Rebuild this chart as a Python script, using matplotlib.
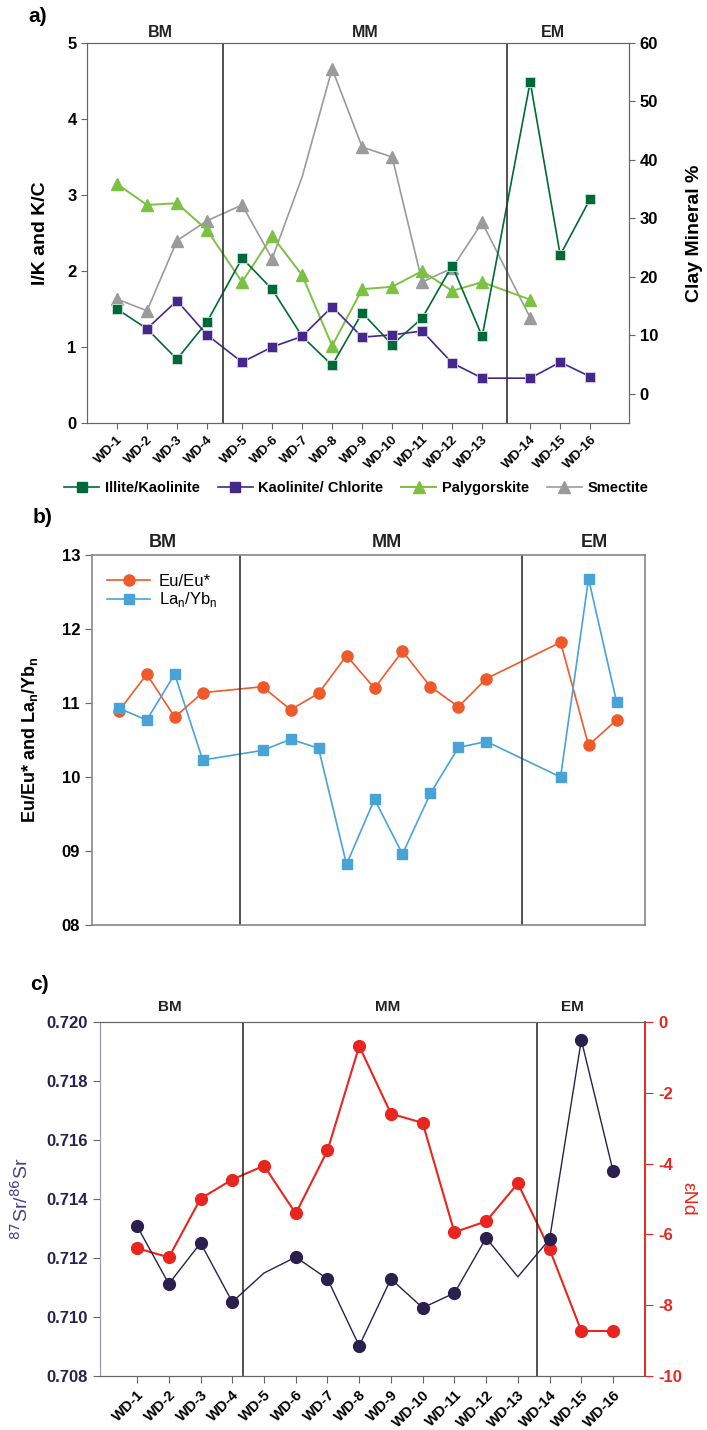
import numpy as np
import matplotlib
matplotlib.use('Agg')
import matplotlib.pyplot as plt
import matplotlib.transforms as mtransforms
from matplotlib.lines import Line2D

plt.rcParams['font.family'] = ['Liberation Sans', 'DejaVu Sans']

samples = ['WD-%d' % i for i in range(1, 17)]
zones = ['BM', 'MM', 'EM']
nan = np.nan

# a) clay minerals
illite_kaolinite = [1.50, 1.24, 0.84, 1.33, 2.17, 1.76, 1.14, 0.76, 1.45, 1.03, 1.38, 2.07, 1.14, 4.49, 2.21, 2.95]
kaolinite_chlorite = [nan, 1.24, 1.61, 1.16, 0.80, 1.00, 1.14, 1.53, 1.13, 1.16, 1.21, 0.79, 0.59, 0.59, 0.80, 0.61]
palygorskite = [35.9, 32.3, 32.6, 28.0, 19.1, 27.0, 20.3, 8.2, 17.9, 18.3, 21.0, 17.6, 19.1, 16.1, nan, nan]
smectite = [16.2, 14.2, 26.2, 29.6, 32.3, 23.1, 37.1, 55.6, 42.2, 40.5, 19.1, 21.5, 29.3, 13.0, nan, nan]

# b) REE ratios
eu_eu = [10.89, 11.39, 10.81, 11.14, 11.22, 10.91, 11.13, 11.64, 11.20, 11.70, 11.22, 10.95, 11.33, 11.82, 10.43, 10.77]
la_yb = [10.93, 10.77, 11.39, 10.23, 10.36, 10.51, 10.39, 8.82, 9.70, 8.96, 9.78, 10.40, 10.48, 10.00, 12.68, 11.02]
b_ticks = [8, 9, 10, 11, 12, 13]
b_ticklabels = ['08', '09', '10', '11', '12', '13']

# c) isotopes
sr_ratio = [0.71308, 0.71112, 0.71251, 0.71051, 0.71149, 0.71203, 0.71129, 0.70902,
            0.71129, 0.71031, 0.71081, 0.71268, 0.71136, 0.71264, 0.71939, 0.71495]
eps_nd = [-6.39, -6.65, -4.99, -4.45, -4.06, -5.41, -3.63, -0.68, -2.59, -2.85,
          -5.94, -5.63, -4.56, -6.42, -8.73, -8.73]
eps_ticks = [0, -2, -4, -6, -8, -10]

c_dgreen = '#00693a'
c_purple = '#46278a'
c_lgreen = '#7dc143'
c_gray = '#9b9b9b'
c_orange = '#ee5a2a'
c_blue = '#4aa3d6'
c_navy = '#2a2050'
c_red = '#e8261f'
c_spine = '#666666'


def positions(gap1, gap2):
    x = np.arange(16, dtype=float)
    x[4:] += gap1
    x[13:] += gap2
    return x


def zone_labels(ax, xs, y, size):
    tr = mtransforms.blended_transform_factory(ax.transData, ax.transAxes)
    for name, xx in zip(zones, xs):
        ax.text(xx, y, name, transform=tr, ha='center', va='center',
                fontsize=size, fontweight='bold', color='#222222')


fig = plt.figure(figsize=(7.07, 14.3), dpi=100)

# ---------------- a)
xa = positions(0.17, 0.6)
ax_a = fig.add_axes([0.123, 0.7042, 0.767, 0.2657])
ax_a2 = ax_a.twinx()
ax_a.set_zorder(ax_a2.get_zorder() + 1)
ax_a.patch.set_visible(False)

ax_a2.plot(xa, smectite, color=c_gray, lw=1.2, marker='^', ms=8,
           markevery=[i for i in range(16) if i != 6], label='Smectite')
ax_a2.plot(xa, palygorskite, color=c_lgreen, lw=1.4, marker='^', ms=8, label='Palygorskite')
ax_a.plot(xa, illite_kaolinite, color=c_dgreen, lw=1.2, marker='s', ms=6.5,
          mec='#cfe3d5', mew=0.6, label='Illite/Kaolinite')
ax_a.plot(xa, kaolinite_chlorite, color=c_purple, lw=1.2, marker='s', ms=6.5,
          mec='#d6cfe6', mew=0.6, label='Kaolinite/ Chlorite')

for xv in (3.53, 13.0):
    ax_a.axvline(xv, color='#333333', lw=1.2)

ax_a.set_xlim(-1.0, 17.07)
ax_a.set_ylim(0, 5)
ax_a2.set_ylim(-5, 60)
ax_a.set_yticks(range(6))
ax_a2.set_yticks(range(0, 61, 10))
ax_a.set_xticks(xa)
ax_a.set_xticklabels(samples, rotation=45, ha='right', rotation_mode='anchor',
                     fontsize=9.5, fontweight='bold')
for t in ax_a.get_yticklabels() + ax_a2.get_yticklabels():
    t.set_fontweight('bold')
    t.set_fontsize(12)
ax_a.tick_params(axis='both', color=c_spine, length=4)
ax_a2.tick_params(axis='y', color=c_spine, length=4)
for a in (ax_a, ax_a2):
    for s in a.spines.values():
        s.set_color(c_spine)
ax_a.set_ylabel('I/K and K/C', fontsize=14, fontweight='bold')
ax_a.yaxis.set_label_coords(-0.07, 0.5)
ax_a2.set_ylabel('Clay Mineral %', fontsize=14, fontweight='bold', rotation=90)
ax_a2.yaxis.set_label_coords(1.105, 0.5)
zone_labels(ax_a, [1.43, 8.27, 14.53], 1.028, 11.5)

handles = [
    Line2D([], [], color=c_dgreen, marker='s', ms=6.5, lw=1.2),
    Line2D([], [], color=c_purple, marker='s', ms=6.5, lw=1.2),
    Line2D([], [], color=c_lgreen, marker='^', ms=8, lw=1.4),
    Line2D([], [], color=c_gray, marker='^', ms=8, lw=1.2),
]
fig.legend(handles, ['Illite/Kaolinite', 'Kaolinite/ Chlorite', 'Palygorskite', 'Smectite'],
           loc='center', bbox_to_anchor=(0.504, 0.659), ncol=4, frameon=False,
           prop={'weight': 'bold', 'size': 10.5}, handlelength=2.4,
           columnspacing=1.2, handletextpad=0.4)

# ---------------- b)
xb = positions(1.14, 1.65)
ax_b = fig.add_axes([0.130, 0.3531, 0.782, 0.2588])
ax_b.plot(xb, eu_eu, color=c_orange, lw=1.2, marker='o', ms=8, label='Eu/Eu*')
ax_b.plot(xb, la_yb, color=c_blue, lw=1.2, marker='s', ms=7, label='La$_\\mathregular{n}$/Yb$_\\mathregular{n}$')
for xv in (4.32, 14.4):
    ax_b.axvline(xv, color='#333333', lw=1.2)
ax_b.set_xlim(-0.96, 18.8)
ax_b.set_ylim(8, 13)
ax_b.set_yticks(b_ticks)
ax_b.set_yticklabels(b_ticklabels, fontsize=12, fontweight='bold')
ax_b.set_xticks([])
ax_b.tick_params(axis='y', color=c_spine, length=5)
for s in ax_b.spines.values():
    s.set_color('#888888')
    s.set_linewidth(1.2)
ax_b.set_ylabel('Eu/Eu* and La$_\\mathregular{n}$/Yb$_\\mathregular{n}$', fontsize=13, fontweight='bold')
ax_b.yaxis.set_label_coords(-0.094, 0.5)
ax_b.legend(loc='upper left', bbox_to_anchor=(0.0, 0.99), frameon=False, fontsize=12,
            handlelength=2.6, handletextpad=0.5, labelspacing=0.1)
zone_labels(ax_b, [1.57, 9.6, 17.0], 1.035, 13)

# ---------------- c)
xc = np.arange(16, dtype=float)
ax_c = fig.add_axes([0.1414, 0.0378, 0.7706, 0.2475])
ax_c2 = ax_c.twinx()
ax_c.set_zorder(ax_c2.get_zorder() + 1)
ax_c.patch.set_visible(False)
ax_c2.plot(xc, eps_nd, color=c_red, lw=1.5, marker='o', ms=8.5)
ax_c.plot(xc, sr_ratio, color=c_navy, lw=1.0, marker='o', ms=8.5,
          markevery=[i for i in range(16) if i not in (4, 12)])
for xv in (3.34, 12.6):
    ax_c.axvline(xv, color='#222222', lw=1.1)
ax_c.set_xlim(-1.17, 16.0)
ax_c.set_ylim(0.708, 0.720)
ax_c2.set_ylim(-10, 0)
ax_c.set_yticks(np.arange(0.708, 0.7201, 0.002))
ax_c.set_yticklabels(['%.3f' % v for v in np.arange(0.708, 0.7201, 0.002)],
                     fontsize=12, fontweight='bold', color=c_navy)
ax_c2.set_yticks(eps_ticks)
ax_c2.set_yticklabels([str(v) for v in eps_ticks], fontsize=12, fontweight='bold', color=c_red)
ax_c.set_xticks(xc)
ax_c.set_xticklabels(samples, rotation=45, ha='right', rotation_mode='anchor',
                     fontsize=10.5, fontweight='bold')
ax_c.tick_params(axis='both', color=c_spine, length=5)
ax_c2.tick_params(axis='y', color=c_red, length=6)
for a in (ax_c, ax_c2):
    for s in a.spines.values():
        s.set_color(c_spine)
ax_c.spines['left'].set_color('#a09ab8')
ax_c2.spines['right'].set_color(c_red)
ax_c2.spines['right'].set_linewidth(1.4)
ax_c.set_ylabel('$^{87}$Sr/$^{86}$Sr', fontsize=14, color='#4b3f8a')
ax_c.yaxis.set_label_coords(-0.125, 0.5)
ax_c2.set_ylabel('εNd', fontsize=14, color=c_red, rotation=270)
ax_c2.yaxis.set_label_coords(1.095, 0.5)
zone_labels(ax_c, [1.04, 7.91, 13.71], 1.042, 11)

fig.text(28 / 707, 1 - 17 / 1430, 'a)', fontsize=15, fontweight='bold', va='center')
fig.text(33 / 707, 1 - 517 / 1430, 'b)', fontsize=15, fontweight='bold', va='center')
fig.text(30 / 707, 1 - 984 / 1430, 'c)', fontsize=15, fontweight='bold', va='center')

fig.savefig('out.png', dpi=100)
